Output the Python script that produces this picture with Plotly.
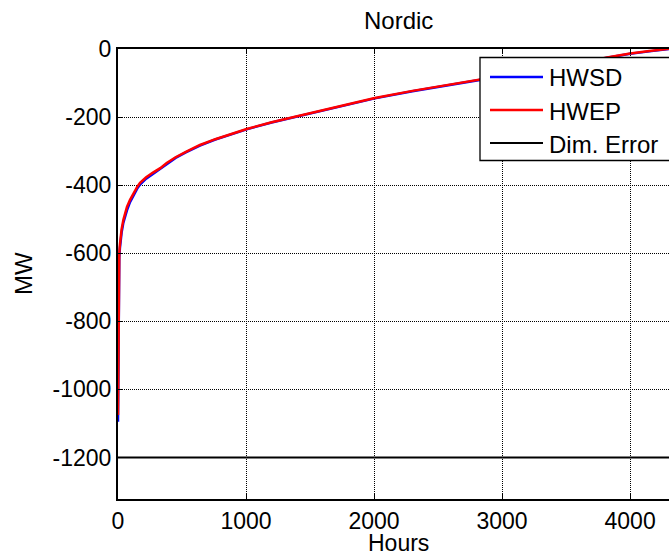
import plotly.graph_objects as go

# Sorted hourly duration curves (MW) for the Nordic area
hours = [0, 2, 4, 7, 10, 15, 20, 28, 42, 55, 70, 94, 120, 150, 172, 220, 273,
         330, 380, 450, 530, 640, 760, 880, 1005, 1200, 1420, 1700, 2006, 2300,
         2585, 2827, 3100, 3400, 3650, 3820, 4000, 4150, 4300, 4380]

hwsd = [-1095, -870, -720, -645, -612, -585, -562, -540, -510, -492, -474, -450,
        -430, -410, -398, -381, -367, -352, -337, -320, -304, -284, -266, -251,
        -236, -216, -196, -171, -145, -124, -106, -89, -73, -55, -39, -26, -14,
        -7, -1, 3]

hwep = [-1075, -850, -700, -630, -600, -575, -552, -530, -502, -482, -464, -443,
        -424, -405, -393, -377, -363, -350, -335, -318, -302, -282, -265, -250,
        -235, -215, -195, -170, -144, -123, -105, -88, -72, -54, -38, -25, -13,
        -6, 0, 4]

dim_error_hours = [0, 4380]
dim_error = [-1200, -1200]

x_ticks = [0, 1000, 2000, 3000, 4000]
x_tick_text = ["0", "1000", "2000", "3000", "4000"]
y_ticks = [-1200, -1000, -800, -600, -400, -200, 0]
y_tick_text = ["-1200", "-1000", "-800", "-600", "-400", "-200", "0"]

series_names = ["HWSD", "HWEP", "Dim. Error"]
series_colors = ["#0000ff", "#ff0000", "#000000"]
series_widths = [2.5, 2.5, 2]

FONT = "Liberation Sans, Arial, sans-serif"

# Plot-area geometry in pixels
W, H = 669, 557
ML, MR, MT, MB = 118, 0, 49, 58
PW, PH = W - ML - MR, H - MT - MB


def px_x(px):
    return (px - ML) / PW


def px_y(py):
    return (H - MB - py) / PH


fig = go.Figure()
series_x = [hours, hours, dim_error_hours]
series_y = [hwsd, hwep, dim_error]
for name, xs, ys, color, width in zip(series_names, series_x, series_y,
                                      series_colors, series_widths):
    fig.add_trace(go.Scatter(x=xs, y=ys, mode="lines", name=name,
                             line=dict(color=color, width=width),
                             showlegend=False))

axis_common = dict(
    showline=True, linecolor="black", linewidth=2,
    ticks="inside", ticklen=5, tickwidth=1, tickcolor="black",
    showgrid=True, gridcolor="black", gridwidth=1, griddash="1px,1px",
    zeroline=False,
    tickfont=dict(family=FONT, size=23, color="black"),
)

# Legend box, drawn over the curves in the upper-right corner
shapes = [dict(type="rect", xref="paper", yref="paper",
               x0=px_x(480), x1=px_x(720), y0=px_y(160.5), y1=px_y(57.5),
               fillcolor="white", line=dict(color="black", width=1.3),
               layer="above")]
annotations = []
legend_rows = [77, 110, 143]
for name, color, width, row in zip(series_names, series_colors,
                                   series_widths, legend_rows):
    shapes.append(dict(type="line", xref="paper", yref="paper",
                       x0=px_x(490), x1=px_x(543), y0=px_y(row), y1=px_y(row),
                       line=dict(color=color, width=width), layer="above"))
    annotations.append(dict(text=name, xref="paper", yref="paper",
                            x=px_x(547), y=px_y(row + 1), xanchor="left",
                            yanchor="middle", showarrow=False,
                            font=dict(family=FONT, size=24, color="black")))

annotations += [
    dict(text="Nordic", xref="paper", yref="paper", x=0.509, y=1,
         xanchor="center", yanchor="bottom", yshift=13, showarrow=False,
         font=dict(family=FONT, size=24, color="black")),
    dict(text="Hours", xref="paper", yref="paper", x=0.509, y=0,
         xanchor="center", yanchor="top", yshift=-29, showarrow=False,
         font=dict(family=FONT, size=23, color="black")),
    dict(text="MW", xref="paper", yref="paper", x=0, y=0.5,
         xanchor="center", yanchor="middle", xshift=-95, textangle=-90,
         showarrow=False, font=dict(family=FONT, size=24, color="black")),
]

fig.update_layout(
    width=W, height=H,
    margin=dict(l=ML, r=MR, t=MT, b=MB),
    paper_bgcolor="white", plot_bgcolor="white",
    font=dict(family=FONT, color="black"),
    showlegend=False,
    xaxis=dict(range=[0, 4304], tickvals=x_ticks, ticktext=x_tick_text,
               mirror="ticks", **axis_common),
    yaxis=dict(range=[-1322, 0], tickvals=y_ticks, ticktext=y_tick_text,
               mirror=False, **axis_common),
    shapes=shapes,
    annotations=annotations,
)

fig.write_html("out.html")
